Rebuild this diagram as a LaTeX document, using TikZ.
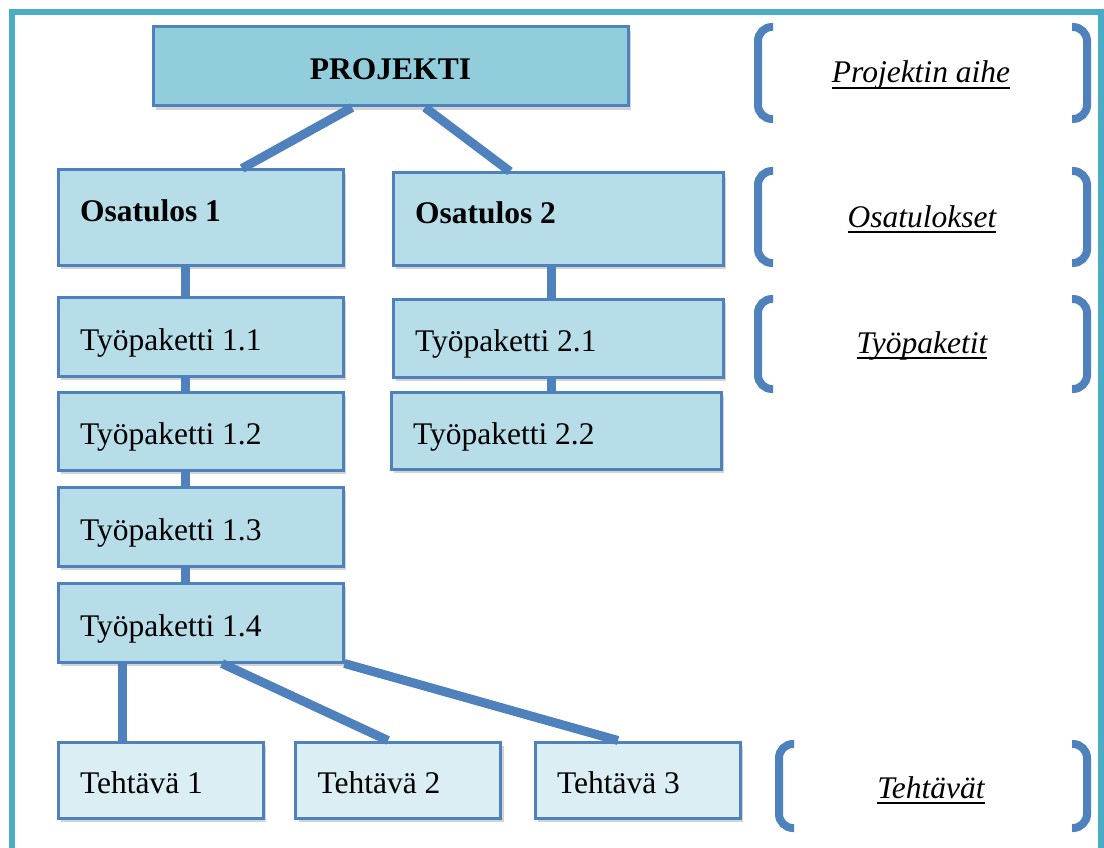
\documentclass[tikz,border=0pt]{standalone}
\usepackage{fontspec}
\setmainfont{Liberation Serif}
\usetikzlibrary{shadows}
\definecolor{frameteal}{HTML}{4BACC6}
\definecolor{boxline}{HTML}{4F81BD}
\definecolor{projfill}{HTML}{92CDDC}
\definecolor{midfill}{HTML}{B7DDE8}
\definecolor{taskfill}{HTML}{DAEEF3}
\newcommand{\boxfont}{\fontsize{31.5}{36}\selectfont}
\newcommand{\ulbl}[1]{\setbox0\hbox{#1}\rlap{\rule[-0.18em]{\wd0}{0.05em}}\box0}

\begin{document}
\begin{tikzpicture}[x=1pt, y=-1pt,
    box/.style={draw=boxline, line width=3pt, fill=#1, inner xsep=22pt, inner ysep=0pt, align=flush left, font=\boxfont,
        text height=27pt, text depth=0pt,
        drop shadow={shadow xshift=3pt, shadow yshift=-4pt, opacity=0.35}},
    col1/.style={text width=241pt},
    col2/.style={text width=286pt},
    result/.style={text depth=18pt},
    task/.style={text width=161pt, minimum height=76pt},
    link/.style={draw=boxline, line width=9pt},
    bracket/.style={draw=boxline, line width=8pt, rounded corners=14pt},
    lbl/.style={anchor=base, inner sep=0pt, font=\boxfont\itshape}
]
\useasboundingbox (0,0) rectangle (1104,848);
\draw[frameteal, line width=6pt] (11.5,848) -- (11.5,12) -- (1101,12) -- (1101,848);

\node[box=projfill, text width=431pt, align=flush center, minimum height=79pt] (proj) at (390.5,66.5) {\textbf{PROJEKTI}};
\node[box=midfill, col1, result, minimum height=95pt] (os1) at (200.5,217.5) {\textbf{Osatulos 1}};
\node[box=midfill, col2, result, minimum height=92pt] (os2) at (558,219) {\textbf{Osatulos 2}};
\node[box=midfill, col1, minimum height=79pt] (tp11) at (200.5,336.5) {Työpaketti 1.1};
\node[box=midfill, col1, minimum height=78pt] (tp12) at (200.5,431) {Työpaketti 1.2};
\node[box=midfill, col1, minimum height=79pt] (tp13) at (200.5,526.5) {Työpaketti 1.3};
\node[box=midfill, col1, minimum height=79pt] (tp14) at (200.5,622.5) {Työpaketti 1.4};
\node[box=midfill, col2, minimum height=78pt] (tp21) at (558,338) {Työpaketti 2.1};
\node[box=midfill, col2, minimum height=77pt] (tp22) at (556,430.5) {Työpaketti 2.2};
\node[box=taskfill, task] (t1) at (160.5,780) {Tehtävä 1};
\node[box=taskfill, task] (t2) at (398,780) {Tehtävä 2};
\node[box=taskfill, task] (t3) at (637.5,780) {Tehtävä 3};

\draw[link] ([xshift=-38.5pt]proj.south) -- ([xshift=41.5pt]os1.north);
\draw[link] ([xshift=34.5pt]proj.south) -- ([xshift=-48pt]os2.north);
\draw[link] ([xshift=-15.5pt]os1.south) -- ([xshift=-15.5pt]tp11.north);
\draw[link] ([xshift=-15.5pt]tp11.south) -- ([xshift=-15.5pt]tp12.north);
\draw[link] ([xshift=-15.5pt]tp12.south) -- ([xshift=-15.5pt]tp13.north);
\draw[link] ([xshift=-15.5pt]tp13.south) -- ([xshift=-15.5pt]tp14.north);
\draw[link] ([xshift=-7pt]os2.south) -- ([xshift=-7pt]tp21.north);
\draw[link] ([xshift=-7pt]tp21.south) -- ([xshift=-5pt]tp22.north);
\draw[link] ([xshift=-78.5pt]tp14.south) -- ([xshift=-38.5pt]t1.north);
\draw[link] ([xshift=21.5pt]tp14.south) -- ([xshift=-10pt]t2.north);
\draw[link] (tp14.south east) -- ([xshift=-19.5pt]t3.north);

% hakasulkeet
\draw[bracket] (773,27) -- (758,27) -- (758,119) -- (773,119);
\draw[bracket] (1072,27) -- (1087,27) -- (1087,119) -- (1072,119);
\draw[bracket] (773,171) -- (758,171) -- (758,263) -- (773,263);
\draw[bracket] (1072,171) -- (1087,171) -- (1087,263) -- (1072,263);
\draw[bracket] (773,299) -- (758,299) -- (758,389) -- (773,389);
\draw[bracket] (1072,299) -- (1087,299) -- (1087,389) -- (1072,389);
\draw[bracket] (794,744) -- (779,744) -- (779,828) -- (794,828);
\draw[bracket] (1072,744) -- (1087,744) -- (1087,828) -- (1072,828);

\node[lbl] (lproj) at (921,83) {\ulbl{Projektin aihe}};
\node[lbl] (los) at (922,227) {\ulbl{Osatulokset}};
\node[lbl] (ltp) at (922,353) {\ulbl{Työpaketit}};
\node[lbl] (lteh) at (931,798) {\ulbl{Tehtävät}};
\end{tikzpicture}
\end{document}
